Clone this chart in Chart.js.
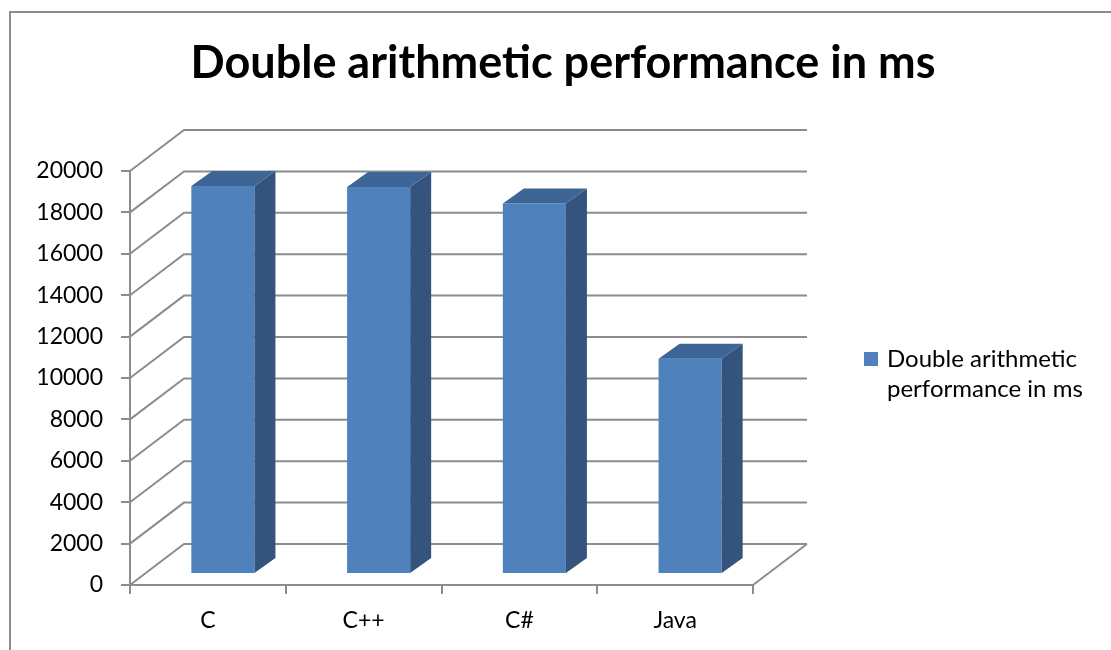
<!DOCTYPE html>
<html lang="en">
<head>
    <meta charset="UTF-8">
    <script src="https://cdn.jsdelivr.net/npm/chart.js"></script>
    <title>Double arithmetic performance</title>
    <style>
      body { margin: 0; background: #fff; }
    </style>
</head>
<body>
  <canvas id="perfChart" width="1111" height="650"></canvas>

  <script>
    const languages = ['C', 'C++', 'C#', 'Java'];
    const timesMs = [18750, 18700, 17900, 10400];
    const seriesName = 'Double arithmetic performance in ms';
    const legendLines = ['Double arithmetic', 'performance in ms'];

    const lineGray = '#8c8c8c';
    const wallDx = 54, wallDy = -41;   // back wall offset
    const barDx = 15, barDy = -11;     // bar front face offset
    const barDepthX = 21, barDepthY = -15;

    const depth3d = {
      id: 'depth3d',
      beforeDatasetsDraw(chart) {
        const { ctx, chartArea, scales } = chart;
        const y = scales.y;
        ctx.save();
        ctx.strokeStyle = lineGray;
        ctx.lineWidth = 2;
        y.ticks.forEach(t => {
          const py = y.getPixelForValue(t.value);
          ctx.beginPath();
          ctx.moveTo(chartArea.left, py);
          ctx.lineTo(chartArea.left + wallDx, py + wallDy);
          ctx.lineTo(chartArea.right + wallDx, py + wallDy);
          ctx.stroke();
        });
        // right edge of the floor
        const base = y.getPixelForValue(0);
        ctx.beginPath();
        ctx.moveTo(chartArea.right, base);
        ctx.lineTo(chartArea.right + wallDx, base + wallDy);
        ctx.stroke();
        ctx.restore();
      },
      beforeDatasetDraw(chart) {
        chart.ctx.save();
        chart.ctx.translate(barDx, barDy);
      },
      afterDatasetDraw(chart, args) {
        const ctx = chart.ctx;
        ctx.restore();
        args.meta.data.forEach(bar => {
          const { x, y, width, base } = bar.getProps(['x', 'y', 'width', 'base'], true);
          const l = x - width / 2 + barDx, r = x + width / 2 + barDx;
          const top = y + barDy, bot = base + barDy;
          ctx.save();
          // side face
          ctx.fillStyle = '#34547e';
          ctx.beginPath();
          ctx.moveTo(r, top);
          ctx.lineTo(r + barDepthX, top + barDepthY);
          ctx.lineTo(r + barDepthX, bot + barDepthY);
          ctx.lineTo(r, bot);
          ctx.closePath();
          ctx.fill();
          // top face
          ctx.fillStyle = '#3d6596';
          ctx.beginPath();
          ctx.moveTo(l, top);
          ctx.lineTo(l + barDepthX, top + barDepthY);
          ctx.lineTo(r + barDepthX, top + barDepthY);
          ctx.lineTo(r, top);
          ctx.closePath();
          ctx.fill();
          ctx.restore();
        });
      },
      afterDraw(chart) {
        const ctx = chart.ctx;
        ctx.save();
        // outer frame
        ctx.strokeStyle = lineGray;
        ctx.lineWidth = 2;
        ctx.strokeRect(10, 12, 1300, 800);
        // legend
        ctx.fillStyle = chart.data.datasets[0].backgroundColor;
        ctx.fillRect(864, 352, 14, 14);
        ctx.fillStyle = '#000';
        ctx.font = '24px Lato';
        ctx.textBaseline = 'alphabetic';
        legendLines.forEach((line, i) => ctx.fillText(line, 887, 367 + i * 30));
        ctx.restore();
      }
    };

    new Chart(document.getElementById('perfChart'), {
      type: 'bar',
      data: {
        labels: languages,
        datasets: [{
          label: seriesName,
          data: timesMs,
          backgroundColor: '#4f81bd',
          borderWidth: 0,
          barPercentage: 0.405,
          categoryPercentage: 1
        }]
      },
      options: {
        responsive: false,
        devicePixelRatio: 1,
        animation: false,
        events: [],
        layout: { padding: { left: 15, right: 0, top: 0, bottom: 0 } },
        plugins: {
          legend: { display: false },
          tooltip: { enabled: false },
          title: {
            display: true,
            text: seriesName,
            color: '#000',
            font: { family: 'Lato', size: 45, weight: 'bold', lineHeight: 1.2 },
            padding: { top: 36, bottom: 81 }
          }
        },
        scales: {
          x: {
            grid: { drawOnChartArea: false, color: lineGray, lineWidth: 2, tickLength: 9 },
            border: { color: lineGray, width: 2 },
            ticks: { color: '#000', font: { family: 'Lato', size: 23 }, padding: 13, maxRotation: 0 },
            afterFit: s => { s.height = 65; }
          },
          y: {
            min: 0,
            max: 20000,
            ticks: {
              stepSize: 2000,
              color: '#000',
              font: { family: 'Lato', size: 23 },
              padding: 18,
              callback: v => String(v)
            },
            grid: { drawOnChartArea: false, color: lineGray, lineWidth: 2, tickLength: 9 },
            border: { color: lineGray, width: 2 },
            afterFit: s => { s.width = 115; }
          },
          legendSpace: {
            type: 'linear',
            position: 'right',
            display: true,
            grid: { display: false },
            border: { display: false },
            ticks: { display: false },
            afterFit: s => { s.width = 358; }
          }
        }
      },
      plugins: [depth3d]
    });
  </script>
</body>
</html>
